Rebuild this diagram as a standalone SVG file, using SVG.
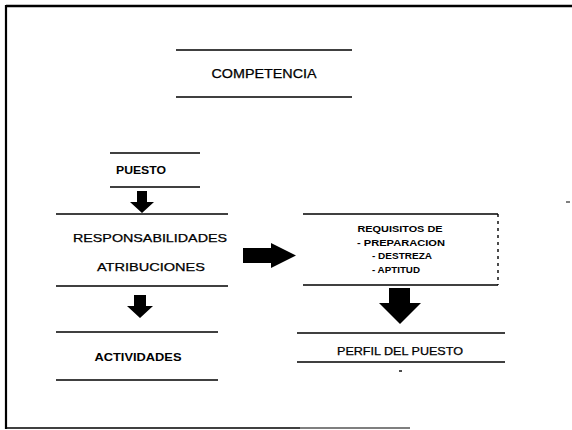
<svg xmlns="http://www.w3.org/2000/svg" width="572" height="430" viewBox="0 0 572 430">
<style>
.rule{stroke:#000;stroke-width:1.4;fill:none}
.frame{stroke:#000;fill:none}
.t{font-family:"Liberation Sans",Arial,sans-serif;fill:#000;text-anchor:middle}
.r{stroke:#000;stroke-width:0.25}
.b{font-weight:bold}
.arrow{fill:#000;stroke:none}
</style>
<rect width="572" height="430" fill="#fff"/>
<g id="frame">
<line class="frame" x1="6" y1="6" x2="572" y2="6" stroke-width="2.5"/>
<line class="frame" x1="6" y1="5" x2="6" y2="429" stroke-width="2.2"/>
<line class="frame" x1="6" y1="428" x2="300" y2="428" stroke-width="1.5"/>
<line class="frame" x1="300" y1="428" x2="410" y2="428" stroke-width="1.2"/>
<line class="frame" x1="566" y1="202" x2="570" y2="202" stroke-width="1"/>
</g>
<g id="competencia">
<line class="rule" x1="176" y1="50" x2="352" y2="50"/>
<line class="rule" x1="176" y1="97" x2="352" y2="97"/>
<text class="t r" x="264" y="78" font-size="12" textLength="105" lengthAdjust="spacingAndGlyphs">COMPETENCIA</text>
</g>
<g id="puesto">
<line class="rule" x1="110" y1="153" x2="200" y2="153"/>
<line class="rule" x1="110" y1="187" x2="200" y2="187"/>
<text class="t b" x="141" y="174" font-size="10" textLength="50" lengthAdjust="spacingAndGlyphs">PUESTO</text>
</g>
<g id="responsabilidades">
<line class="rule" x1="56" y1="214" x2="228" y2="214"/>
<line class="rule" x1="56" y1="286" x2="228" y2="286"/>
<text class="t r" x="150" y="242" font-size="11" textLength="154" lengthAdjust="spacingAndGlyphs">RESPONSABILIDADES</text>
<text class="t r" x="151" y="271" font-size="11" textLength="108" lengthAdjust="spacingAndGlyphs">ATRIBUCIONES</text>
</g>
<g id="actividades">
<line class="rule" x1="56" y1="332" x2="218" y2="332"/>
<line class="rule" x1="56" y1="380" x2="218" y2="380"/>
<text class="t b" x="138" y="361" font-size="10" textLength="87" lengthAdjust="spacingAndGlyphs">ACTIVIDADES</text>
</g>
<g id="requisitos">
<line class="rule" x1="303" y1="214" x2="498" y2="214"/>
<line class="rule" x1="303" y1="285" x2="498" y2="285"/>
<line class="rule" x1="498" y1="214" x2="498" y2="285" stroke-dasharray="3,4" stroke-width="1"/>
<text class="t b" x="400" y="232" font-size="8.5" textLength="85" lengthAdjust="spacingAndGlyphs">REQUISITOS DE</text>
<text class="t b" x="401" y="246" font-size="8.5" textLength="88" lengthAdjust="spacingAndGlyphs">- PREPARACION</text>
<text class="t b" x="402" y="259" font-size="8.5" textLength="60" lengthAdjust="spacingAndGlyphs">- DESTREZA</text>
<text class="t b" x="396" y="273" font-size="8.5" textLength="48" lengthAdjust="spacingAndGlyphs">- APTITUD</text>
</g>
<g id="perfil">
<line class="rule" x1="297" y1="333" x2="505" y2="333"/>
<line class="rule" x1="297" y1="362" x2="505" y2="362"/>
<text class="t r" x="400" y="355" font-size="10.5" textLength="126" lengthAdjust="spacingAndGlyphs">PERFIL DEL PUESTO</text>
<line class="rule" x1="399" y1="371" x2="402" y2="371"/>
</g>
<g id="connectors">
<path class="arrow" d="M137,191 H147 V202 H154 L142,213 L130,202 H137 Z"/>
<path class="arrow" d="M134,295 H146 V306 H153 L140,318 L127,306 H134 Z"/>
<path class="arrow" d="M243,248 H271 V243 L296,255.5 L271,268 V263 H243 Z"/>
<path class="arrow" d="M389,288 H410 V303 H421 L400,324 L379,303 H389 Z"/>
</g>
</svg>
